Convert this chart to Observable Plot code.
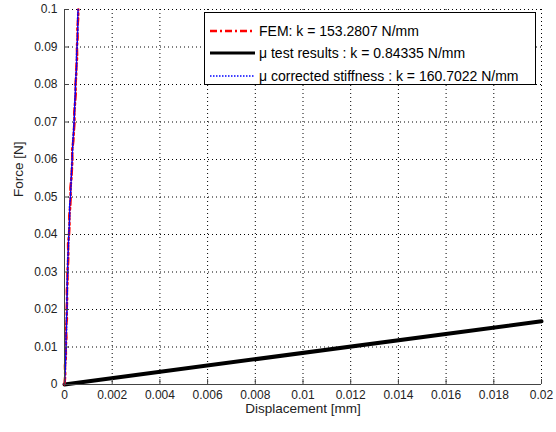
<!DOCTYPE html>
<html>
<head>
<meta charset="utf-8">
<script src="https://cdn.jsdelivr.net/npm/d3@7"></script>
<script src="https://cdn.jsdelivr.net/npm/@observablehq/plot@0.6"></script>
<style>
  html, body { margin: 0; padding: 0; background: #fff; }
  #wrap { position: relative; width: 556px; height: 432px; font-family: "Liberation Sans", Arial, sans-serif; }
  #legend { position: absolute; left: 204px; top: 12px; width: 332px; height: 73px; background: #fff;
            border: 1px solid #000; box-sizing: border-box; font-size: 14px; color: #000; }
  .row { position: absolute; left: 5px; height: 20px; display: flex; align-items: center; white-space: nowrap; }
  .row svg { margin-right: 4px; }
</style>
</head>
<body>
<div id="wrap"></div>
<script>
// ---- data ----
const forceFEM = [0,0.0025,0.005,0.0075,0.01,0.0125,0.015,0.0175,0.02,0.0225,0.025,0.0275,0.03,0.0325,0.035,0.0375,0.04,0.0425,0.045,0.0475,0.05,0.0525,0.055,0.0575,0.06,0.0625,0.065,0.0675,0.07,0.0725,0.075,0.0775,0.08,0.0825,0.085,0.0875,0.09,0.0925,0.095,0.0975,0.1];
const dispFEM = [0,0.00003,0.00002,0.00006,0.00005,0.00008,0.00006,0.0001,0.00009,0.00011,0.0001,0.00013,0.00012,0.00015,0.00016,0.00015,0.00019,0.00021,0.0002,0.00024,0.00026,0.00025,0.00029,0.00031,0.00033,0.00032,0.00037,0.00039,0.00042,0.00041,0.00044,0.00047,0.00046,0.00049,0.0005,0.00053,0.00052,0.00055,0.00054,0.00057,0.00058];
const dispCorr = [0,0.00002,0.00004,0.00005,0.00007,0.00006,0.00009,0.00008,0.00011,0.0001,0.00012,0.00011,0.00014,0.00013,0.00015,0.00017,0.00018,0.0002,0.00022,0.00021,0.00025,0.00027,0.00028,0.0003,0.00032,0.00034,0.00035,0.00038,0.0004,0.00042,0.00043,0.00045,0.00046,0.00048,0.00051,0.0005,0.00053,0.00054,0.00056,0.00055,0.00057];
const dispTest = [0, 0.02];
const forceTest = [0, 0.016867];
const xTicks = [0,0.002,0.004,0.006,0.008,0.01,0.012,0.014,0.016,0.018,0.02];
const xTickLabels = ["0","0.002","0.004","0.006","0.008","0.01","0.012","0.014","0.016","0.018","0.02"];
const yTicks = [0,0.01,0.02,0.03,0.04,0.05,0.06,0.07,0.08,0.09,0.1];
const yTickLabels = ["0","0.01","0.02","0.03","0.04","0.05","0.06","0.07","0.08","0.09","0.1"];
const legendLabels = ["FEM: k = 153.2807 N/mm", "\u03bc test results : k = 0.84335 N/mm", "\u03bc corrected stiffness : k = 160.7022 N/mm"];

const fem = forceFEM.map((f, i) => ({x: dispFEM[i], y: f}));
const corr = forceFEM.map((f, i) => ({x: dispCorr[i], y: f}));
const test = dispTest.map((d, i) => ({x: d, y: forceTest[i]}));

const gridStyle = {stroke: "#000", strokeOpacity: 1, strokeWidth: 1, strokeDasharray: "1,3"};

const chart = Plot.plot({
  width: 556, height: 432,
  marginLeft: 64, marginRight: 15, marginTop: 9, marginBottom: 48,
  style: {fontFamily: "'Liberation Sans', Arial, sans-serif", fontSize: "12px", color: "#000", background: "#fff"},
  x: {domain: [0, 0.02]},
  y: {domain: [0, 0.1]},
  marks: [
    Plot.gridX(xTicks.slice(1), gridStyle),
    Plot.gridY(yTicks.slice(1), gridStyle),
    Plot.line(test, {x: "x", y: "y", stroke: "#000", strokeWidth: 4}),
    Plot.line(fem, {x: "x", y: "y", stroke: "#ff0000", strokeWidth: 2.5, strokeDasharray: "7,3,2,3"}),
    Plot.line(corr, {x: "x", y: "y", stroke: "#0000ff", strokeWidth: 1.5, strokeDasharray: "1.5,1.5"}),
    Plot.ruleX([0], {stroke: "#444", strokeWidth: 1}),
    Plot.ruleY([0], {stroke: "#444", strokeWidth: 1}),
    Plot.axisX({ticks: xTicks, tickSize: -5, tickPadding: 11, tickFormat: (d, i) => xTickLabels[i], stroke: "#444", label: null, fontSize: 12, fill: "#222"}),
    Plot.axisY({ticks: yTicks, tickSize: -5, tickPadding: 12, tickFormat: (d, i) => yTickLabels[i], stroke: "#444", label: null, fontSize: 12, fill: "#222"}),
    Plot.text(["Displacement [mm]"], {frameAnchor: "bottom", dy: 28, fontSize: 13.5, fill: "#222"}),
    Plot.text(["Force [N]"], {frameAnchor: "left", dx: -46, rotate: -90, fontSize: 13.5, fill: "#222"})
  ]
});
const wrap = document.getElementById("wrap");
wrap.appendChild(chart);

// legend
const legend = document.createElement("div");
legend.id = "legend";
const styles = [
  {stroke: "#ff0000", w: 2.5, dash: "7,3,2,3"},
  {stroke: "#000", w: 3, dash: null},
  {stroke: "#0000ff", w: 1.5, dash: "1.5,1.5"}
];
const tops = [8, 30, 53];
legendLabels.forEach((lab, i) => {
  const row = document.createElement("div");
  row.className = "row";
  row.style.top = tops[i] + "px";
  const s = styles[i];
  row.innerHTML = `<svg width="45" height="8"><line x1="0" y1="4" x2="45" y2="4" stroke="${s.stroke}" stroke-width="${s.w}" ${s.dash ? `stroke-dasharray="${s.dash}"` : ""}/></svg><span>${lab}</span>`;
  legend.appendChild(row);
});
wrap.appendChild(legend);
</script>
</body>
</html>
